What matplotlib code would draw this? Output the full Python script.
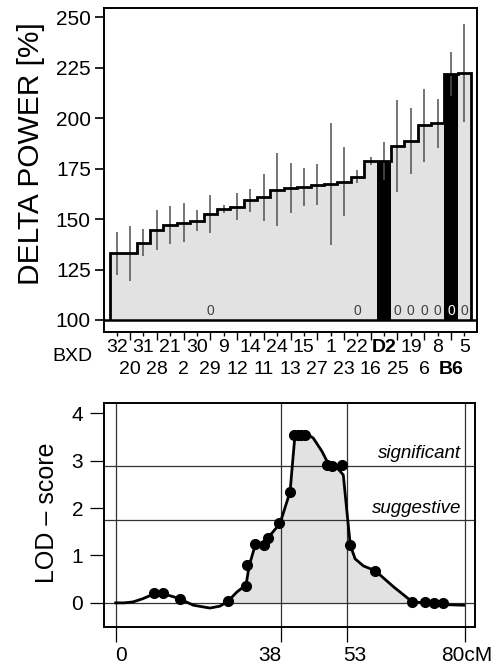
import numpy as np
import matplotlib
matplotlib.use("Agg")
import matplotlib.pyplot as plt
from matplotlib.transforms import ScaledTranslation

plt.rcParams['font.family'] = ['Liberation Sans', 'DejaVu Sans']

# ---- strain means (delta power, % of baseline) ----
strains = ['32', '20', '31', '28', '21', '2', '30', '29', '9', '12', '14', '11', '24', '13',
           '15', '27', '1', '23', '22', '16', 'D2', '25', '19', '6', '8', 'B6', '5']
delta_power = [133.0, 133.0, 138.3, 144.6, 147.0, 148.2, 149.2, 152.5, 155.0, 156.1,
               159.4, 160.7, 164.6, 165.3, 166.0, 167.0, 167.3, 168.6, 171.0, 178.9,
               178.9, 186.1, 188.8, 196.4, 197.4, 221.8, 222.4]
delta_sem = [10.8, 13.7, 6.8, 9.9, 9.3, 9.7, 5.2, 9.2, 2.2, 6.6, 5.7, 11.7, 18.2, 12.3,
             9.5, 10.2, 30.2, 17.3, 3.3, 2.1, 9.4, 22.7, 16.3, 18.2, 12.1, 11.0, 24.2]
parental = ['D2', 'B6']
zero_marked = ['29', '22', '25', '19', '6', '8', 'B6', '5']

# ---- QTL scan ----
marker_cm = [8.9, 10.9, 14.8, 25.8, 29.8, 30.1, 32.0, 34.0, 35.0, 37.5, 40.0, 40.8, 41.7,
             42.6, 43.4, 48.4, 49.6, 51.9, 53.8, 59.5, 67.9, 71.0, 73.0, 75.0]
marker_lod = [0.20, 0.20, 0.08, 0.04, 0.36, 0.80, 1.24, 1.22, 1.36, 1.69, 2.35, 3.55, 3.55,
              3.55, 3.55, 2.91, 2.89, 2.91, 1.22, 0.68, 0.02, 0.02, -0.01, 0.0]
curve_cm = [0, 2, 4, 6.3, 8.8, 10.9, 13.2, 15.0, 17.8, 21.6, 23.9, 25.8, 27.8, 29.9, 30.6,
            32.0, 33.9, 35.0, 37.7, 40.0, 40.6, 41.1, 42.5, 43.8, 45.3, 47.3, 48.8, 50.7,
            52.2, 53.0, 53.8, 54.9, 56.8, 59.5, 63.7, 67.9, 72.8, 79.8]
curve_lod = [0, 0, 0.02, 0.09, 0.19, 0.19, 0.13, 0.07, -0.05, -0.11, -0.07, 0.04, 0.23,
             0.38, 0.78, 1.22, 1.26, 1.38, 1.68, 2.35, 3.0, 3.52, 3.57, 3.57, 3.48, 3.2,
             2.93, 2.86, 2.7, 1.95, 1.22, 0.93, 0.78, 0.68, 0.34, 0.03, -0.03, -0.05]
cm_ticks = [0, 38, 53, 80]
cm_labels = ['0', '38', '53', '80cM']
thresholds = {'significant': 2.9, 'suggestive': 1.75}

W, H = 496, 667
fig = plt.figure(figsize=(W / 100, H / 100), dpi=100)


def px_axes(left, top, right, bottom):
    return fig.add_axes([left / W, 1 - bottom / H, (right - left) / W, (bottom - top) / H])


# ================= top panel: strain distribution =================
ax1 = px_axes(104, 8, 477, 332)
n = len(strains)
pos = np.arange(n)
edges = np.arange(n + 1) - 0.5

ax1.stairs(delta_power, edges, baseline=100, fill=True, color='#e2e2e2', lw=0, zorder=1)
for s, v, p in zip(strains, delta_power, pos):
    if s in parental:
        ax1.bar(p, v - 100, bottom=100, width=1.0, color='black', lw=0, zorder=2)
ax1.errorbar(pos, delta_power, yerr=delta_sem, fmt='none', ecolor='#505050',
             elinewidth=1.1, capsize=0, zorder=3)
ax1.stairs(delta_power, edges, baseline=100, fill=False, color='black', lw=2.0, zorder=4)
ax1.axhline(100, color='black', lw=1.8, zorder=5)

for s, p in zip(strains, pos):
    if s in zero_marked:
        ax1.text(p, 101.2, '0', ha='center', va='bottom', fontsize=10,
                 color='white' if s in parental else '#404040', zorder=6)

ax1.set_xlim(-0.95, 26.95)
ax1.set_ylim(94.05, 254.6)
ax1.set_yticks([100, 125, 150, 175, 200, 225, 250])
ax1.tick_params(axis='y', direction='out', length=6.5, width=1.2, labelsize=15, pad=3)

ax1.set_xticks(pos[0::2])
ax1.set_xticklabels(strains[0::2])
ax1.set_xticks(pos[1::2], minor=True)
ax1.set_xticklabels(strains[1::2], minor=True)
ax1.tick_params(axis='x', which='major', direction='out', length=3, width=1.0,
                labelsize=14, pad=2)
ax1.tick_params(axis='x', which='minor', direction='out', length=6, width=1.0,
                labelsize=14, pad=15)
for lab in ax1.get_xticklabels() + ax1.get_xticklabels(minor=True):
    if lab.get_text() in parental:
        lab.set_fontweight('bold')
for sp in ax1.spines.values():
    sp.set_linewidth(1.4)

fig.text(31 / W, 1 - 154 / H, 'DELTA POWER [%]', rotation=90, ha='center', va='center',
         fontsize=21.5)
fig.text(93 / W, 1 - 357 / H, 'BXD', ha='right', va='center', fontsize=14)

# ================= bottom panel: LOD score =================
ax2 = px_axes(104, 403, 475, 627)
cm = np.array(curve_cm)
lod = np.array(curve_lod)
ax2.fill_between(cm, lod, 0, where=(cm >= 25.8) & (cm <= 67.9), interpolate=True,
                 color='#e2e2e2', lw=0, zorder=1)
for x in cm_ticks:
    ax2.axvline(x, color='#333333', lw=0.9, zorder=2)
ax2.axhline(0, color='#333333', lw=0.9, zorder=2)
for name, yv in thresholds.items():
    ax2.axhline(yv, color='#333333', lw=0.9, zorder=2)
    ax2.text(79.2, yv + 0.07, name, ha='right', va='bottom', fontsize=13.5,
             style='italic', zorder=3)
ax2.plot(cm, lod, color='black', lw=2.0, solid_joinstyle='round', zorder=4)
ax2.plot(marker_cm, marker_lod, 'o', color='black', ms=7, zorder=5)

ax2.set_xlim(-2.68, 82.4)
ax2.set_ylim(-0.51, 4.22)
ax2.set_yticks([0, 1, 2, 3, 4])
ax2.set_xticks(cm_ticks)
ax2.set_xticklabels(cm_labels)
ax2.tick_params(axis='y', direction='out', length=10, width=0.9, labelsize=15, pad=5)
ax2.tick_params(axis='x', direction='out', length=11, width=0.9, labelsize=15, pad=3)
# hand-set label nudges along the cM axis (pixels)
for lab, dx in zip(ax2.get_xticklabels(), [5, -12, 8, 2]):
    lab.set_transform(lab.get_transform() + ScaledTranslation(dx / 100, 0, fig.dpi_scale_trans))
for sp in ax2.spines.values():
    sp.set_linewidth(1.4)

fig.text(47 / W, 1 - 513 / H, 'LOD \u2013 score', rotation=90, ha='center', va='center',
         fontsize=18)

fig.savefig('out.png', dpi=100)
